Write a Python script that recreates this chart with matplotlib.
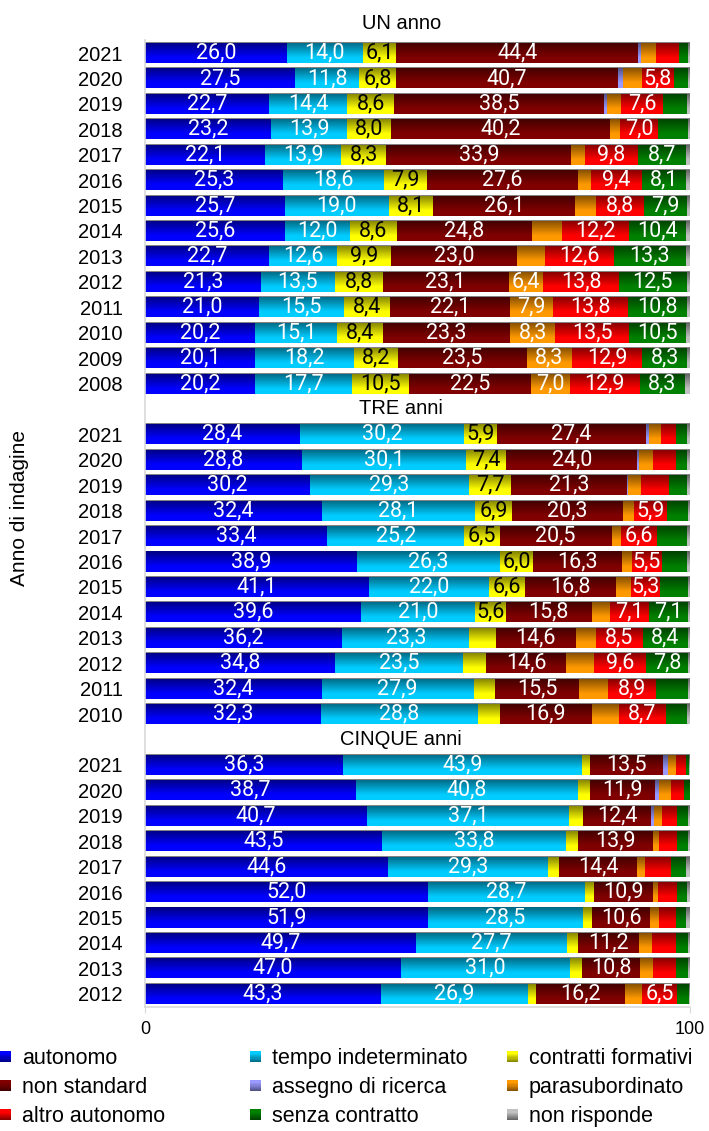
import numpy as np
import matplotlib
matplotlib.use("Agg")
import matplotlib.pyplot as plt
from matplotlib.patches import Rectangle
from matplotlib.legend_handler import HandlerBase
from matplotlib.colors import to_rgb

plt.rcParams['font.family'] = ['Liberation Sans', 'DejaVu Sans']

categories = ['autonomo', 'tempo indeterminato', 'contratti formativi',
              'non standard', 'assegno di ricerca', 'parasubordinato',
              'altro autonomo', 'senza contratto', 'non risponde']
colors = ['#0000FF', '#00CCFF', '#FFFF00', '#800000', '#9999FF',
          '#FF9900', '#FF0000', '#008000', '#C0C0C0']
label_dark = ['contratti formativi']

# valori (% per riga)
un_years = [2021, 2020, 2019, 2018, 2017, 2016, 2015, 2014, 2013, 2012, 2011, 2010, 2009, 2008]
un_values = [
    [26.0, 14.0, 6.1, 44.4, 0.5, 2.7, 4.2, 1.8, 0.3],
    [27.5, 11.8, 6.8, 40.7, 0.9, 3.5, 5.8, 2.7, 0.3],
    [22.7, 14.4, 8.6, 38.5, 0.6, 2.6, 7.6, 4.4, 0.6],
    [23.2, 13.9, 8.0, 40.2, 0.0, 1.9, 7.0, 5.4, 0.4],
    [22.1, 13.9, 8.3, 33.9, 0.0, 2.5, 9.8, 8.7, 0.8],
    [25.3, 18.6, 7.9, 27.6, 0.0, 2.4, 9.4, 8.1, 0.7],
    [25.7, 19.0, 8.1, 26.1, 0.0, 3.9, 8.8, 7.9, 0.5],
    [25.6, 12.0, 8.6, 24.8, 0.0, 5.6, 12.2, 10.4, 0.8],
    [22.7, 12.6, 9.9, 23.0, 0.0, 5.2, 12.6, 13.3, 0.7],
    [21.3, 13.5, 8.8, 23.1, 0.0, 6.4, 13.8, 12.5, 0.6],
    [21.0, 15.5, 8.4, 22.1, 0.0, 7.9, 13.8, 10.8, 0.5],
    [20.2, 15.1, 8.4, 23.3, 0.0, 8.3, 13.5, 10.5, 0.7],
    [20.1, 18.2, 8.2, 23.5, 0.0, 8.3, 12.9, 8.3, 0.5],
    [20.2, 17.7, 10.5, 22.5, 0.0, 7.0, 12.9, 8.3, 0.9],
]

tre_years = [2021, 2020, 2019, 2018, 2017, 2016, 2015, 2014, 2013, 2012, 2011, 2010]
tre_values = [
    [28.4, 30.2, 5.9, 27.4, 0.5, 2.2, 2.8, 2.1, 0.5],
    [28.8, 30.1, 7.4, 24.0, 0.4, 2.5, 4.2, 2.1, 0.5],
    [30.2, 29.3, 7.7, 21.3, 0.2, 2.3, 5.1, 3.4, 0.5],
    [32.4, 28.1, 6.9, 20.3, 0.0, 2.1, 5.9, 3.9, 0.4],
    [33.4, 25.2, 6.5, 20.5, 0.0, 1.7, 6.6, 5.5, 0.6],
    [38.9, 26.3, 6.0, 16.3, 0.0, 1.8, 5.5, 4.6, 0.6],
    [41.1, 22.0, 6.6, 16.8, 0.0, 2.7, 5.3, 5.1, 0.4],
    [39.6, 21.0, 5.6, 15.8, 0.0, 3.4, 7.1, 7.1, 0.4],
    [36.2, 23.3, 4.9, 14.6, 0.0, 3.8, 8.5, 8.4, 0.3],
    [34.8, 23.5, 4.3, 14.6, 0.0, 5.1, 9.6, 7.8, 0.3],
    [32.4, 27.9, 3.9, 15.5, 0.0, 5.2, 8.9, 5.9, 0.3],
    [32.3, 28.8, 4.0, 16.9, 0.0, 4.9, 8.7, 3.8, 0.6],
]

cinque_years = [2021, 2020, 2019, 2018, 2017, 2016, 2015, 2014, 2013, 2012]
cinque_values = [
    [36.3, 43.9, 1.4, 13.5, 0.8, 1.6, 1.8, 0.5, 0.2],
    [38.7, 40.8, 2.2, 11.9, 0.8, 2.2, 2.3, 1.1, 0.0],
    [40.7, 37.1, 2.6, 12.4, 0.6, 1.4, 2.8, 2.0, 0.4],
    [43.5, 33.8, 2.1, 13.9, 0.0, 1.0, 3.3, 2.1, 0.3],
    [44.6, 29.3, 2.0, 14.4, 0.0, 1.4, 4.8, 2.8, 0.7],
    [52.0, 28.7, 1.7, 10.9, 0.0, 0.9, 3.5, 1.8, 0.5],
    [51.9, 28.5, 1.7, 10.6, 0.0, 1.6, 3.2, 1.8, 0.7],
    [49.7, 27.7, 2.0, 11.2, 0.0, 2.5, 4.4, 2.2, 0.3],
    [47.0, 31.0, 2.1, 10.8, 0.0, 2.4, 4.1, 2.2, 0.4],
    [43.3, 26.9, 1.6, 16.2, 0.0, 3.2, 6.5, 2.1, 0.2],
]

group_titles = ['UN anno', 'TRE anni', 'CINQUE anni']
group_years = [un_years, tre_years, cinque_years]
group_values = [un_values, tre_values, cinque_values]

# etichette nascoste a mano nell'originale
label_min = 5.25
hidden_labels = [('UN anno', 2018, 'senza contratto'),
                 ('UN anno', 2014, 'parasubordinato'),
                 ('TRE anni', 2017, 'senza contratto'),
                 ('TRE anni', 2011, 'senza contratto')]

# righe: titolo di gruppo + anni
positions, ylabels, rows, keys, title_pos = [], [], [], [], []
y = 0
for title, years, vals in zip(group_titles, group_years, group_values):
    title_pos.append(y)
    y += 1
    for yr, row in zip(years, vals):
        positions.append(y)
        ylabels.append(str(yr))
        rows.append(row)
        keys.append((title, yr))
        y += 1
positions = np.array(positions)
data = np.array(rows)

fig = plt.figure(figsize=(7.09, 11.31), dpi=100)
ax = fig.add_axes([145 / 709, 1 - 1007 / 1131, 545 / 709, (1007 - 40.3) / 1131])

bar_h = 0.79
left = np.zeros(len(positions))
for j, cat in enumerate(categories):
    w = data[:, j]
    ax.barh(positions, w, left=left, height=bar_h, color=colors[j], linewidth=0, zorder=1)
    for k, (p, v) in enumerate(zip(positions, w)):
        if v < label_min or (keys[k][0], keys[k][1], cat) in hidden_labels:
            continue
        ax.text(left[k] + v / 2, p, f"{v:.1f}".replace('.', ','), ha='center', va='center',
                fontsize=15.5, family=['Roboto', 'DejaVu Sans'],
                color='black' if cat in label_dark else 'white', zorder=4)
    left = left + w

# sfumatura verticale (scuro in alto)
t = np.linspace(0, 1, 64)
grad = np.zeros((64, 1, 4))
grad[:, 0, 3] = np.clip(0.5 * (1 - t / 0.75), 0, None)
for p, tot in zip(positions, left):
    ax.imshow(grad, extent=(0, tot, p + bar_h / 2, p - bar_h / 2), aspect='auto',
              interpolation='bilinear', zorder=2)

for title, p in zip(group_titles, title_pos):
    ax.text(47, p - (0.15 if p == 0 else 0), title, ha='center', va='center',
            fontsize=14.5, clip_on=False)

ax.set_xlim(0, 100)
ax.set_ylim(38.52, 0.5)
ax.set_yticks(positions)
ax.set_yticklabels(ylabels, fontsize=14.5)
ax.tick_params(axis='y', length=0, pad=16)
ax.set_xticks([0, 100])
ax.set_xticklabels(['0', '100'], fontsize=13)
ax.tick_params(axis='x', length=4, color='#D9D9D9', pad=6)
for s in ['top', 'right']:
    ax.spines[s].set_visible(False)
for s in ['left', 'bottom']:
    ax.spines[s].set_color('#D9D9D9')
    ax.spines[s].set_linewidth(1.2)

fig.text(20 / 709, 1 - 508 / 1131, 'Anno di indagine', rotation=90,
         ha='center', va='center', fontsize=15)


class GradientHandler(HandlerBase):
    def create_artists(self, legend, orig_handle, xdescent, ydescent, width, height, fontsize, trans):
        base = np.array(to_rgb(orig_handle.get_facecolor()))
        size = min(width, height)
        x0 = -xdescent
        y0 = -ydescent + (height - size) / 2
        n = 10
        out = []
        for k in range(n):
            frac = 1 - (k + 0.5) / n  # 1 = in alto
            a = max(0.0, 0.5 * (1 - (1 - frac) / 0.75))
            c = base * (1 - a)
            out.append(Rectangle((x0, y0 + k * size / n), size, size / n, facecolor=c,
                                 edgecolor='none', transform=trans))
        return out


handles = [Rectangle((0, 0), 1, 1, facecolor=c) for c in colors]
col_x = [0, 250, 507]
for ci in range(3):
    idx = [ci, ci + 3, ci + 6]
    leg = fig.legend([handles[i] for i in idx], [categories[i] for i in idx],
                     loc='upper left', bbox_to_anchor=(col_x[ci] / 709, 1 - 1048 / 1131),
                     frameon=False, fontsize=15.5, handlelength=0.5, handleheight=0.5,
                     handletextpad=0.52, labelspacing=0.38, borderpad=0, borderaxespad=0,
                     handler_map={Rectangle: GradientHandler()})

fig.savefig('out.png', dpi=100)
